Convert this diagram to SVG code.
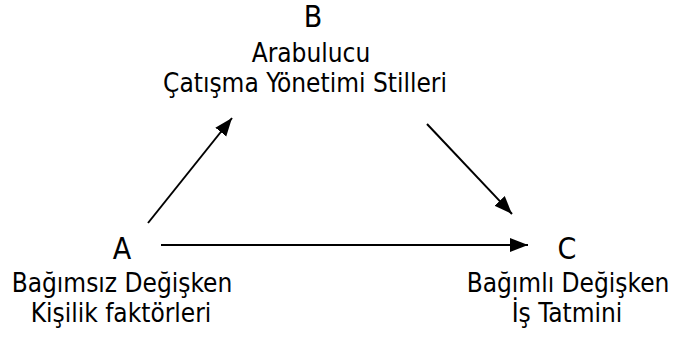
<svg xmlns="http://www.w3.org/2000/svg" width="675" height="338" viewBox="0 0 675 338">
<defs>
<style>
text{font-family:"DejaVu Sans Condensed","DejaVu Sans",sans-serif;font-size:26px;fill:#000;text-anchor:middle}
text.k{font-size:30px}
.c{stroke:#000;stroke-width:2;fill:none;marker-end:url(#ah)}
</style>
<marker id="ah" markerUnits="userSpaceOnUse" markerWidth="20" markerHeight="16" viewBox="0 0 20 16" refX="18" refY="8" orient="auto">
<path d="M0,1 L18,8 L0,15 Z" fill="#000"/>
</marker>
</defs>
<rect width="675" height="338" fill="#fff"/>
<g id="connectors">
<line class="c" x1="148" y1="223" x2="232" y2="118"/>
<line class="c" x1="427" y1="124" x2="512" y2="214"/>
<line class="c" x1="161" y1="245" x2="528" y2="245"/>
</g>
<g id="nodeB">
<text class="k" x="313" y="27">B</text>
<text x="311" y="62">Arabulucu</text>
<text x="305" y="92">Çatışma Yönetimi Stilleri</text>
</g>
<g id="nodeA">
<text class="k" x="122" y="259">A</text>
<text x="122" y="292">Bağımsız Değişken</text>
<text x="121" y="322">Kişilik faktörleri</text>
</g>
<g id="nodeC">
<text class="k" x="567" y="259">C</text>
<text x="568" y="292">Bağımlı Değişken</text>
<text x="567" y="322">İş Tatmini</text>
</g>
</svg>
